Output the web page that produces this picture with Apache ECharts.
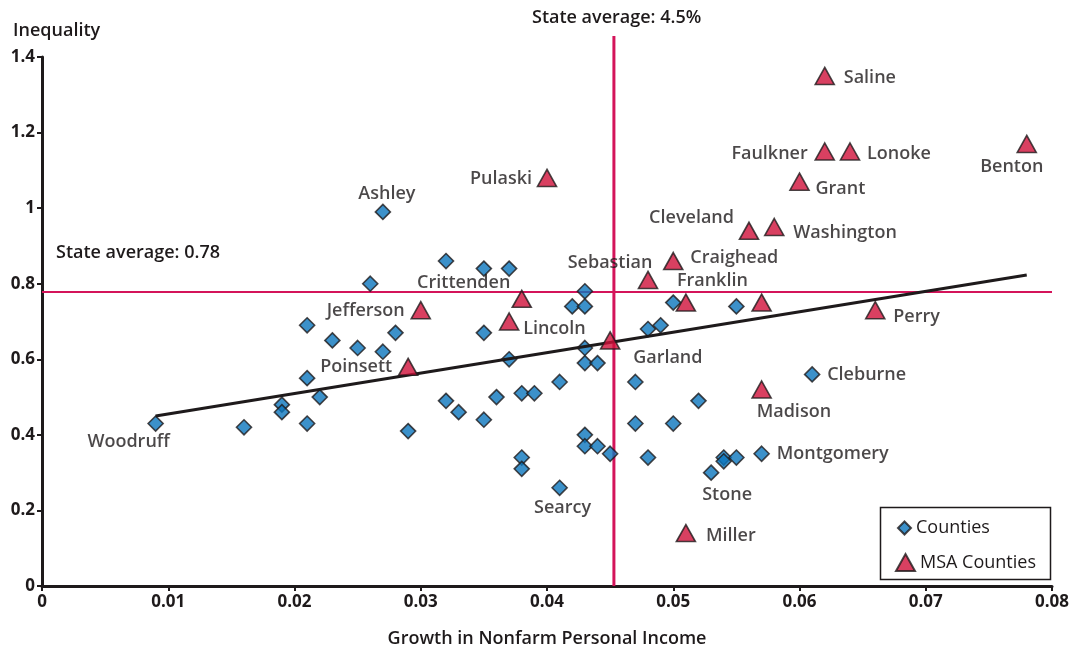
<!DOCTYPE html>
<html>
<head>
<meta charset="utf-8">
<script src="https://cdn.jsdelivr.net/npm/echarts@6/dist/echarts.min.js"></script>
<style>html,body{margin:0;padding:0;background:#fff}#c{width:1071px;height:645px}</style>
</head>
<body>
<div id="c"></div>
<script>
// ---------- DATA ----------
const countyX = [0.009,0.016,0.019,0.019,0.021,0.022,0.021,0.021,0.023,0.025,0.028,0.027,0.026,0.027,0.029,0.032,0.035,0.037,0.035,0.037,0.032,0.033,0.035,0.036,0.038,0.039,0.038,0.038,0.041,0.041,0.043,0.042,0.043,0.043,0.043,0.044,0.043,0.043,0.044,0.045,0.047,0.047,0.048,0.048,0.049,0.050,0.050,0.052,0.055,0.054,0.054,0.055,0.053,0.057,0.061];
const countyY = [0.43,0.42,0.48,0.46,0.43,0.50,0.55,0.69,0.65,0.63,0.67,0.62,0.80,0.99,0.41,0.86,0.84,0.84,0.67,0.60,0.49,0.46,0.44,0.50,0.51,0.51,0.34,0.31,0.26,0.54,0.78,0.74,0.74,0.63,0.59,0.59,0.40,0.37,0.37,0.35,0.54,0.43,0.34,0.68,0.69,0.75,0.43,0.49,0.74,0.34,0.33,0.34,0.30,0.35,0.56];
const countyNames = ['Woodruff','','','','','','','','','','','','','Ashley','','','','','','','','','','','','','','','Searcy','','','','','','','','','','','','','','','','','','','','','','','','Stone','Montgomery','Cleburne'];

const msaX = [0.062,0.062,0.064,0.078,0.060,0.056,0.058,0.040,0.050,0.048,0.051,0.057,0.038,0.030,0.037,0.045,0.029,0.066,0.057,0.051];
const msaY = [1.35,1.15,1.15,1.17,1.07,0.94,0.95,1.08,0.86,0.81,0.75,0.75,0.76,0.73,0.70,0.65,0.58,0.73,0.52,0.14];
const msaNames = ['Saline','Faulkner','Lonoke','Benton','Grant','Cleveland','Washington','Pulaski','Craighead','Sebastian','Franklin','','Crittenden','Jefferson','Lincoln','Garland','Poinsett','Perry','Madison','Miller'];

const trendX = [0.009, 0.078];
const trendY = [0.45, 0.823];

const stateAvgGrowth = 0.0453;
const stateAvgInequality = 0.782;

const seriesNames = ['Counties', 'MSA Counties'];

// ---------- LABEL PLACEMENT (style) ----------
// [align, dx, dy] relative to marker centre
const countyLabelPlace = {
  'Woodruff': ['center', -27, 18], 'Ashley': ['center', 4, -18], 'Searcy': ['center', 3, 20],
  'Stone': ['center', 16, 22], 'Montgomery': ['left', 15, 0], 'Cleburne': ['left', 15, 0]
};
const msaLabelPlace = {
  'Saline': ['left', 19, 2], 'Faulkner': ['right', -17, 2], 'Lonoke': ['left', 17, 2],
  'Benton': ['center', -15, 23], 'Grant': ['left', 16, 7], 'Cleveland': ['right', -15, -13],
  'Washington': ['left', 19, 6], 'Pulaski': ['right', -15, 1], 'Craighead': ['left', 17, -3],
  'Sebastian': ['center', -38, -17], 'Franklin': ['left', -9, -22], 'Crittenden': ['center', -58, -16],
  'Jefferson': ['right', -16, 1], 'Lincoln': ['left', 14, 7], 'Garland': ['left', 23, 17],
  'Poinsett': ['right', -16, 0], 'Perry': ['left', 18, 7], 'Madison': ['left', -5, 22], 'Miller': ['left', 20, 3]
};

const INK = '#1e1a1b';
const BLUE = '#0b76bd';
const RED = '#d0103a';
const LINE_RED = '#d4145a';
const FONT = 'Open Sans';

function build(xs, ys, names, place) {
  return xs.map((x, i) => {
    const n = names[i];
    const item = { value: [x, ys[i]], name: n };
    if (n && place[n]) {
      const p = place[n];
      item.label = { show: true, position: 'inside', align: p[0], verticalAlign: 'middle', offset: [p[1], p[2]], formatter: n };
    }
    return item;
  });
}

const labelStyle = { color: INK, fontSize: 18, fontFamily: FONT, fontWeight: 600 };

const chart = echarts.init(document.getElementById('c'), null, { renderer: 'canvas' });
chart.setOption({
  animation: false,
  backgroundColor: '#fff',
  grid: [
    { left: 42, right: 19, top: 57, bottom: 59, outerBoundsMode: 'none', containLabel: false },
    { left: 42, right: 19, top: 36, bottom: 59, outerBoundsMode: 'none', containLabel: false }
  ],
  xAxis: [
    {
      gridIndex: 0, type: 'value', min: 0, max: 0.08, interval: 0.01,
      name: 'Growth in Nonfarm Personal Income', nameLocation: 'middle', nameGap: 44,
      nameTextStyle: { color: INK, fontSize: 18, fontFamily: FONT, fontWeight: 600 },
      axisLine: { show: true, onZero: false, lineStyle: { color: INK, width: 3 } },
      axisTick: { show: true, length: 5, lineStyle: { color: INK, width: 2 } },
      axisLabel: { color: INK, fontSize: 17, fontFamily: FONT, fontWeight: 700, margin: 8 },
      splitLine: { show: false }
    },
    { gridIndex: 1, type: 'value', min: 0, max: 0.08, show: false }
  ],
  yAxis: [
    {
      gridIndex: 0, type: 'value', min: 0, max: 1.4, interval: 0.2,
      axisLine: { show: true, onZero: false, lineStyle: { color: INK, width: 3 } },
      axisTick: { show: true, length: 5, lineStyle: { color: INK, width: 2 } },
      axisLabel: { color: INK, fontSize: 17, fontFamily: FONT, fontWeight: 700, margin: 7 },
      splitLine: { show: false }
    },
    { gridIndex: 1, type: 'value', min: 0, max: 1, show: false }
  ],
  legend: [
    {
      data: [{ name: seriesNames[0], icon: 'diamond' }],
      left: 892, top: 514, itemWidth: 13, itemHeight: 13, itemGap: 0,
      textStyle: { color: INK, fontSize: 18, fontFamily: FONT },
      selectedMode: false
    },
    {
      data: [{ name: seriesNames[1], icon: 'triangle' }],
      left: 890, top: 548, itemWidth: 19, itemHeight: 17, itemGap: 0,
      textStyle: { color: INK, fontSize: 18, fontFamily: FONT },
      selectedMode: false
    }
  ],
  graphic: [
    { type: 'rect', left: 878, top: 505, shape: { width: 170, height: 72 }, style: { fill: 'none', stroke: INK, lineWidth: 1.5 }, z: 100 },
    { type: 'text', left: 13, top: 22, style: { text: 'Inequality', fill: INK, font: '600 18px "' + FONT + '"' } },
    { type: 'text', left: 532, top: 9, style: { text: 'State average: 4.5%', fill: INK, font: '600 18px "' + FONT + '"' } },
    { type: 'text', left: 56, top: 244, style: { text: 'State average: 0.78', fill: INK, font: '600 18px "' + FONT + '"' } }
  ],
  series: [
    {
      name: 'stateAvgGrowth', type: 'line', xAxisIndex: 1, yAxisIndex: 1,
      data: [[stateAvgGrowth, 0], [stateAvgGrowth, 1]],
      symbol: 'none', lineStyle: { color: LINE_RED, width: 3 }, z: 1, silent: true
    },
    {
      name: seriesNames[0], type: 'scatter', xAxisIndex: 0, yAxisIndex: 0,
      symbol: 'diamond', symbolSize: [15, 15],
      itemStyle: { color: BLUE, borderColor: INK, borderWidth: 1.6 },
      label: Object.assign({ show: false }, labelStyle),
      data: build(countyX, countyY, countyNames, countyLabelPlace),
      markLine: {
        silent: true, symbol: 'none', label: { show: false },
        lineStyle: { color: LINE_RED, width: 2, type: 'solid' },
        data: [{ yAxis: stateAvgInequality }], z: 1
      },
      z: 3
    },
    {
      name: 'trend', type: 'line', xAxisIndex: 0, yAxisIndex: 0,
      data: trendX.map((x, i) => [x, trendY[i]]),
      symbol: 'none', lineStyle: { color: INK, width: 3 }, z: 4, silent: true
    },
    {
      name: seriesNames[1], type: 'scatter', xAxisIndex: 0, yAxisIndex: 0,
      symbol: 'triangle', symbolSize: [19, 17],
      itemStyle: { color: RED, borderColor: INK, borderWidth: 1.6 },
      label: Object.assign({ show: false }, labelStyle),
      data: build(msaX, msaY, msaNames, msaLabelPlace),
      z: 5
    }
  ]
});
</script>
</body>
</html>
